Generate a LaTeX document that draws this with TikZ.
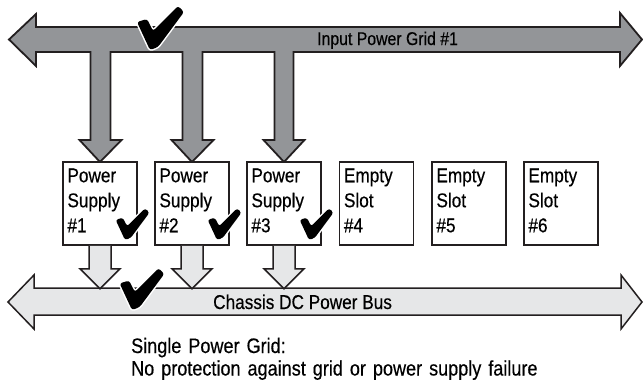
\documentclass[tikz,border=0pt]{standalone}
\usepackage{fontspec}
\setmainfont{Liberation Sans}[FakeStretch=0.86,FakeBold=0.4]
\usetikzlibrary{calc}
\definecolor{gridgray}{RGB}{147,149,152}
\definecolor{busgray}{RGB}{230,231,232}
\definecolor{lineblk}{RGB}{35,31,32}
\tikzset{
  gridarrow/.style={draw=lineblk, line width=1.8pt, fill=gridgray, line join=miter},
  busarrow/.style={draw=lineblk, line width=1.5pt, fill=busgray, line join=miter},
  slotbox/.style={draw=lineblk, line width=1.5pt, fill=white, minimum width=74pt, minimum height=83pt, inner sep=0pt},
  slottext/.style={anchor=base west, inner sep=0pt, text width=66pt, align=left, font=\fontsize{20}{25}\selectfont},
  chk/.pic={\path[preaction={draw=white, line width=3pt, line join=round}, fill=black, rounded corners=2.5pt]
      (-13,-28) -- (-3,-31) -- (3,-19) -- (28,-44) -- (34,-38) -- (8,-3) -- (0,0) -- cycle;}
}
\begin{document}
\begin{tikzpicture}[x=1pt,y=-1pt]
\useasboundingbox (0,0) rectangle (643,383);
% input power grid arrow with three branches
\draw[gridarrow] (9,39.5) -- (36,14) -- (36,27) -- (620,27) -- (620,13) -- (642,39.5) -- (620,66) -- (620,52)
  -- (293.5,52) -- (293.5,140) -- (304.5,140) -- (284,162) -- (263.5,140) -- (274.5,140) -- (274.5,52)
  -- (202.5,52) -- (202.5,140) -- (213.5,140) -- (192,162) -- (171.5,140) -- (182.5,140) -- (182.5,52)
  -- (110.5,52) -- (110.5,140) -- (121.5,140) -- (100,162) -- (79.5,140) -- (90.5,140) -- (90.5,52)
  -- (36,52) -- (36,66) -- cycle;
\node[anchor=base west, inner sep=0pt, font=\fontsize{18.4}{22}\selectfont] (gridlbl) at (317,45) {Input Power Grid \#1};
% chassis bus
\draw[busarrow] (8,302) -- (34,275) -- (34,288) -- (621,288) -- (621,275) -- (642,302) -- (621,329) -- (621,315)
  -- (34,315) -- (34,329) -- cycle;
\node[anchor=base west, inner sep=0pt, font=\fontsize{20}{24}\selectfont] (buslbl) at (213,309) {Chassis DC Power Bus};
% slots
\foreach \i/\x/\a/\b in {1/100/Power/Supply, 2/192/Power/Supply, 3/284/Power/Supply,
                         4/376.5/Empty/Slot, 5/469/Empty/Slot, 6/561/Empty/Slot} {
  \node[slotbox] (s\i) at (\x,203.5) {};
  \node[slottext] (t\i) at ([xshift=5pt,yshift=-21pt]s\i.north west) {\a\\\b\\\#\i};
}
% supply to bus arrows
\foreach \i in {1,2,3} {
  \draw[busarrow] ($(s\i.south)+(-11,0)$) -- ++(0,23) -- ++(-9,0) -- ($(s\i.south)+(0,43)$)
     -- ++(20,-20) -- ++(-9,0) -- ($(s\i.south)+(11,0)$);
}
% check marks
\pic at (150,50) {chk};
\pic[scale=0.72] at (125,240) {chk};
\pic[scale=0.72] at (217,240) {chk};
\pic[scale=0.72] at (309,240) {chk};
\pic[scale=0.95] at (132,310) {chk};
% caption
\node[anchor=base west, inner sep=0pt, text width=480pt, align=left, font=\fontsize{21}{22.5}\selectfont] (cap) at (131,353)
  {Single Power Grid:\\No protection against grid or power supply failure};
\end{tikzpicture}
\end{document}
